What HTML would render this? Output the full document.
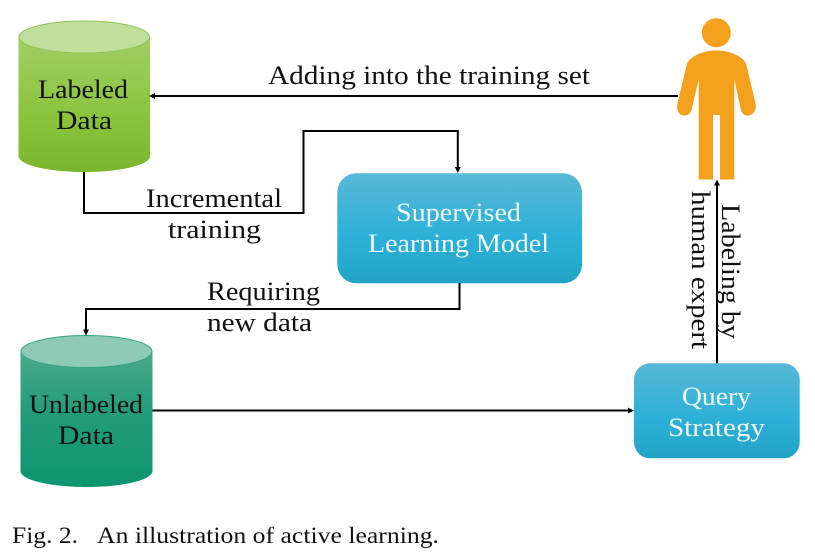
<!DOCTYPE html>
<html>
<head>
<meta charset="utf-8">
<style>
html,body{margin:0;padding:0;background:#fff;width:815px;height:554px;overflow:hidden}
svg{display:block}
text{font-family:"Liberation Serif",serif;font-size:26px;fill:#111}
.w{fill:#eef8fb}
.c{font-size:23px}
</style>
</head>
<body>
<svg width="815" height="554" viewBox="0 0 815 554" xmlns="http://www.w3.org/2000/svg">
<defs>
<linearGradient id="g1" x1="0" y1="0" x2="0" y2="1">
<stop offset="0" stop-color="#a0ce66"/><stop offset=".6" stop-color="#8ac43c"/><stop offset="1" stop-color="#7ab52e"/>
</linearGradient>
<linearGradient id="g2" x1="0" y1="0" x2="0" y2="1">
<stop offset="0" stop-color="#4aa98b"/><stop offset=".5" stop-color="#1f9b78"/><stop offset="1" stop-color="#0e9570"/>
</linearGradient>
<linearGradient id="b" x1="0" y1="0" x2="0" y2="1">
<stop offset="0" stop-color="#59b8d6"/><stop offset=".55" stop-color="#2eb1d9"/><stop offset="1" stop-color="#22a4c8"/>
</linearGradient>
</defs>

<!-- Labeled cylinder -->
<path d="M18.5 37V156C18.5 165 48 172 84 172S150 165 150 156V37Z" fill="url(#g1)"/>
<ellipse cx="84.2" cy="37" rx="65.3" ry="16" fill="#c0de9c" stroke="#8dc44f" stroke-width="1"/>

<!-- Unlabeled cylinder -->
<path d="M20.5 351.5V471C20.5 480 50 487 86.500 487S152.500 480 152.500 471V351.500Z" fill="url(#g2)"/>
<ellipse cx="86.500" cy="351.500" rx="65.500" ry="16" fill="#8fcab6" stroke="#2fa384" stroke-width="1"/>

<!-- Boxes -->
<rect x="337.300" y="173.300" width="244.700" height="110" rx="19" fill="url(#b)"/>
<rect x="634" y="363.300" width="165.700" height="95" rx="16" fill="url(#b)"/>

<!-- Person -->
<g fill="#f3a01c">
<circle cx="716.300" cy="32.700" r="14.500"/>
<path d="M688.500 61C695 54 705 50.500 716.300 50.500S738 54 744.500 61C745.500 62 746 63 746.300 64.500L755.500 103.500C757 110 753 115.500 748 115.500C743.500 115.500 741.500 113 740.500 108L734.300 79V179.500H720V115H713V179.500H698.700V79L692 108C691 113 689 115.500 684 115.500C679 115.500 676 110 677.500 103.500L686.800 64.500C687 63 687.500 62 688.500 61Z"/>
</g>

<!-- Connectors -->
<g fill="none" stroke="#000" stroke-width="2">
<path d="M678 96H152"/>
<path d="M84 172V213H303.500V131H457.800V170"/>
<path d="M459.500 283V309H86V333"/>
<path d="M152.500 410.500H631"/>
<path d="M717 363.300V183"/>
</g>
<g fill="#000">
<path d="M149 96L155 93V99Z"/>
<path d="M457.800 173L454.800 167H460.800Z"/>
<path d="M86 335.500L83 329.500H89Z"/>
<path d="M634 410.500L628 407.500V413.500Z"/>
<path d="M717 179.500L714 185.500H720Z"/>
</g>

<!-- Labels -->
<text x="38" y="98" textLength="90" lengthAdjust="spacingAndGlyphs">Labeled</text>
<text x="56" y="129" textLength="56" lengthAdjust="spacingAndGlyphs">Data</text>
<text x="268" y="84" textLength="322" lengthAdjust="spacingAndGlyphs">Adding into the training set</text>
<text x="146" y="207" textLength="136" lengthAdjust="spacingAndGlyphs">Incremental</text>
<text x="168" y="238" textLength="93" lengthAdjust="spacingAndGlyphs">training</text>
<text class="w" x="396" y="221" textLength="125" lengthAdjust="spacingAndGlyphs">Supervised</text>
<text class="w" x="368" y="252" textLength="181" lengthAdjust="spacingAndGlyphs">Learning Model</text>
<text x="207" y="300" textLength="113" lengthAdjust="spacingAndGlyphs">Requiring</text>
<text x="207" y="331" textLength="105" lengthAdjust="spacingAndGlyphs">new data</text>
<text x="29" y="413" textLength="114" lengthAdjust="spacingAndGlyphs">Unlabeled</text>
<text x="58" y="444" textLength="56" lengthAdjust="spacingAndGlyphs">Data</text>
<text class="w" x="682" y="405" textLength="69" lengthAdjust="spacingAndGlyphs">Query</text>
<text class="w" x="668" y="436" textLength="97" lengthAdjust="spacingAndGlyphs">Strategy</text>
<text transform="translate(722 204) rotate(90)" textLength="135" lengthAdjust="spacingAndGlyphs">Labeling by</text>
<text transform="translate(692 191) rotate(90)" textLength="158" lengthAdjust="spacingAndGlyphs">human expert</text>

<!-- Caption -->
<text class="c" x="12" y="543" textLength="66" lengthAdjust="spacingAndGlyphs">Fig. 2.</text>
<text class="c" x="97" y="543" textLength="342" lengthAdjust="spacingAndGlyphs">An illustration of active learning.</text>
</svg>
</body>
</html>
